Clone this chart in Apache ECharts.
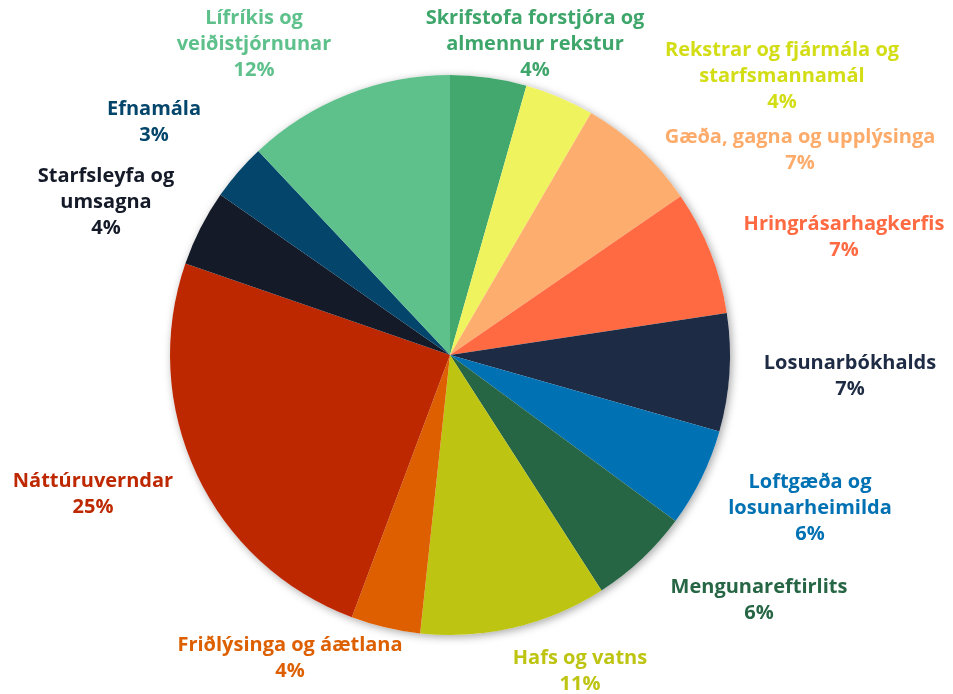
<!DOCTYPE html>
<html>
<head>
<meta charset="utf-8">
<script src="https://cdn.jsdelivr.net/npm/echarts@6/dist/echarts.min.js"></script>
<style>
    html, body { margin: 0; padding: 0; background: #fff; }
    #chart { width: 953px; height: 694px; }
</style>
</head>
<body>
<div id="chart"></div>
<script>
    // slices, clockwise from 12 o'clock
    var categories = [
        'Skrifstofa forstjóra og\nalmennur rekstur',
        'Rekstrar og fjármála og\nstarfsmannamál',
        'Gæða, gagna og upplýsinga',
        'Hringrásarhagkerfis',
        'Losunarbókhalds',
        'Loftgæða og\nlosunarheimilda',
        'Mengunareftirlits',
        'Hafs og vatns',
        'Friðlýsinga og áætlana',
        'Náttúruverndar',
        'Starfsleyfa og\numsagna',
        'Efnamála',
        'Lífríkis og\nveiðistjórnunar'
    ];
    var shares = [4.4, 4.0, 7.0, 7.2, 6.8, 5.7, 5.8, 10.8, 4.0, 24.6, 4.4, 3.3, 12.0];

    var sliceColors = ['#42a86e', '#eef35e', '#fdae6f', '#ff6a42', '#1e2b44', '#0071b3', '#266645',
        '#bec412', '#dd5f00', '#be2800', '#141a28', '#03456b', '#5ec08b'];
    var textColors = ['#3fa66b', '#d3dd16', '#fdab6a', '#ff6a42', '#1e2b44', '#0071b3', '#266645',
        '#bec412', '#dd5f00', '#be2800', '#141a28', '#03456b', '#5ec08b'];

    // where each label sits (text centre), like the hand-placed labels of the original
    var labelSpots = [[535, 44], [782, 76], [800, 150], [844, 237], [850, 376], [810, 508], [759, 600],
        [580, 671], [290, 658], [93, 494], [106, 202], [154, 122], [254, 44]];

    var chart = echarts.init(document.getElementById('chart'));

    var pieData = [];
    for (var i = 0; i < categories.length; i++) {
        pieData.push({
            name: categories[i],
            value: shares[i],
            itemStyle: { color: sliceColors[i] },
            label: { rich: { t: { color: textColors[i] } } }
        });
    }

    chart.setOption({
        animation: false,
        series: [{
            // plain disc underneath, only to carry the soft shadow
            type: 'pie',
            silent: true,
            z: 1,
            center: [450, 355],
            radius: 280,
            label: { show: false },
            labelLine: { show: false },
            itemStyle: {
                color: '#fff',
                shadowBlur: 9,
                shadowColor: 'rgba(0,0,0,0.35)',
                shadowOffsetX: 2,
                shadowOffsetY: 2
            },
            data: [{ value: 1 }]
        }, {
            type: 'pie',
            z: 2,
            center: [450, 355],
            radius: 280,
            startAngle: 90,
            clockwise: true,
            avoidLabelOverlap: false,
            itemStyle: { borderWidth: 0 },
            label: {
                show: true,
                position: 'outside',
                rich: {
                    t: {
                        align: 'center',
                        fontFamily: 'Open Sans',
                        fontWeight: 'bold',
                        fontSize: 20,
                        lineHeight: 26
                    }
                },
                formatter: function (p) {
                    var lines = (p.name + '\n' + Math.round(p.percent) + '%').split('\n');
                    return lines.map(function (s) { return '{t|' + s + '}'; }).join('\n');
                }
            },
            labelLine: { show: false },
            labelLayout: function (params) {
                var s = labelSpots[params.dataIndex];
                return { x: s[0], y: s[1], align: 'center', verticalAlign: 'middle', hideOverlap: false };
            },
            emphasis: { disabled: true },
            data: pieData
        }]
    });
</script>
</body>
</html>
